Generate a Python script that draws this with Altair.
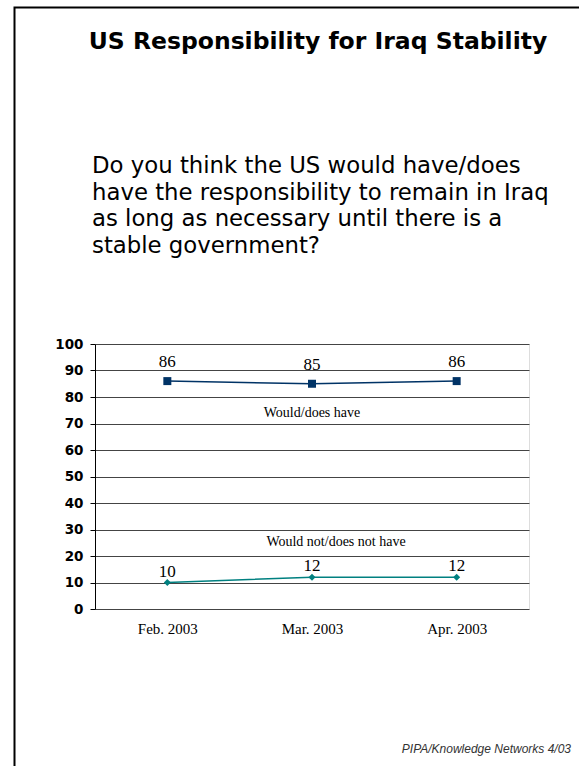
import altair as alt
import pandas as pd

months = ["Feb. 2003", "Mar. 2003", "Apr. 2003"]
would_have = [86, 85, 86]
would_not = [10, 12, 12]
y_ticks = [0, 10, 20, 30, 40, 50, 60, 70, 80, 90, 100]

df = pd.DataFrame({
    "month": months * 2,
    "value": would_have + would_not,
    "series": ["Would/does have"] * 3 + ["Would not/does not have"] * 3,
})
df_have = df[df.series == "Would/does have"]
df_not = df[df.series == "Would not/does not have"]

one = pd.DataFrame({"k": [0]})

PX0, PY0 = 95, 344   # plot origin in page pixels
W, H = 434, 265

xenc = alt.X("month:N", sort=months, scale=alt.Scale(domain=months, paddingInner=0, paddingOuter=0.5),
             axis=alt.Axis(title=None, labelAngle=0, ticks=False, domain=False, grid=False,
                           labelFont="Liberation Serif", labelFontSize=15, labelColor="black",
                           labelPadding=12))
yenc = alt.Y("value:Q", scale=alt.Scale(domain=[0, 100]),
             axis=alt.Axis(title=None, values=y_ticks, tickCount=20, labelOverlap=False,
                           tickSize=5, tickColor="black",
                           domainColor="black", gridColor="#444444", gridWidth=1,
                           labelFont="DejaVu Sans", labelFontWeight="bold", labelFontSize=13.5,
                           labelColor="black", labelPadding=7))

have_line = alt.Chart(df_have).mark_line(color="#003366", strokeWidth=1.5).encode(x=xenc, y=yenc)
have_pts = alt.Chart(df_have).mark_point(shape="square", filled=True, size=64, color="#003366", opacity=1).encode(x=xenc, y=yenc)
have_lbl = alt.Chart(df_have).mark_text(font="Liberation Serif", fontSize=17, dy=-14, baseline="alphabetic", color="black").encode(
    x=xenc, y=yenc, text="value:Q")

not_line = alt.Chart(df_not).mark_line(color="#008080", strokeWidth=1.5).encode(x=xenc, y=yenc)
not_pts = alt.Chart(df_not).mark_point(shape="diamond", filled=True, size=50, color="#008080", opacity=1).encode(x=xenc, y=yenc)
not_lbl = alt.Chart(df_not).mark_text(font="Liberation Serif", fontSize=17, dy=-6, baseline="alphabetic", color="black").encode(
    x=xenc, y=yenc, text="value:Q")

ann_have = alt.Chart(one).mark_text(font="Liberation Serif", fontSize=14, baseline="alphabetic", color="black").encode(
    x=alt.value(312 - PX0), y=alt.value(417 - PY0), text=alt.value("Would/does have"))
ann_not = alt.Chart(one).mark_text(font="Liberation Serif", fontSize=14, baseline="alphabetic", color="black").encode(
    x=alt.value(336 - PX0), y=alt.value(546 - PY0), text=alt.value("Would not/does not have"))

frame = alt.Chart(one).mark_rect(fillOpacity=0, stroke="black", strokeWidth=2).encode(
    x=alt.value(14.5 - PX0), y=alt.value(7.5 - PY0), x2=alt.value(700), y2=alt.value(700))

title = alt.Chart(one).mark_text(font="DejaVu Sans", fontWeight="bold", fontSize=23.5, align="center",
                                 baseline="alphabetic", color="black").encode(
    x=alt.value(318 - PX0), y=alt.value(49 - PY0), text=alt.value("US Responsibility for Iraq Stability"))

question = alt.Chart(one).mark_text(font="DejaVu Sans", fontSize=22.8, align="left", baseline="alphabetic",
                                    lineBreak="\n", lineHeight=26.7, color="black").encode(
    x=alt.value(92 - PX0), y=alt.value(173 - PY0),
    text=alt.value("Do you think the US would have/does\nhave the responsibility to remain in Iraq\nas long as necessary until there is a\nstable government?"))

footer = alt.Chart(one).mark_text(font="Liberation Sans", fontStyle="italic", fontSize=12, align="right",
                                  baseline="alphabetic", color="#333333").encode(
    x=alt.value(571 - PX0), y=alt.value(753 - PY0), text=alt.value("PIPA/Knowledge Networks 4/03"))

chart = alt.layer(
    have_line, not_line, have_pts, not_pts, have_lbl, not_lbl, ann_have, ann_not, frame, title, question, footer
).properties(
    width=W, height=H,
    autosize=alt.AutoSizeParams(type="none"),
    padding={"left": PX0, "top": PY0, "right": 579 - PX0 - W, "bottom": 766 - PY0 - H},
).configure_view(stroke="black", strokeWidth=1).configure(background="white")

chart.save("out.html", embed_options={"renderer": "svg", "actions": False})
